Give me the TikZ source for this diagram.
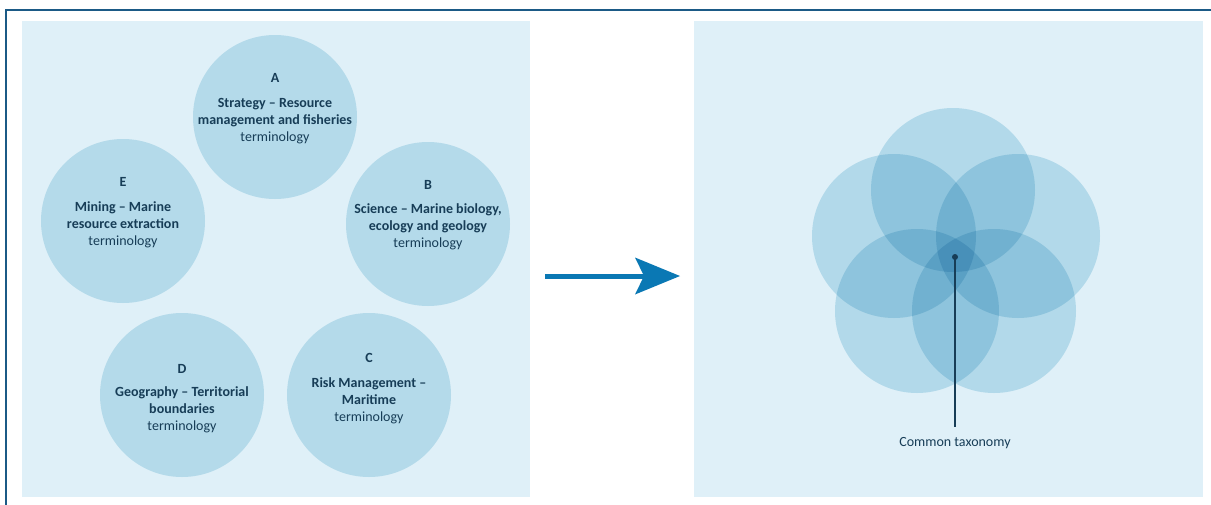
\documentclass[tikz,border=0pt]{standalone}
\usepackage{fontspec}
\setmainfont{Carlito}
\usetikzlibrary{arrows.meta}
\definecolor{panelbg}{HTML}{DFF0F8}
\definecolor{circfill}{HTML}{B4DAEA}
\definecolor{multfill}{RGB}{204,231,241}
\definecolor{navy}{HTML}{173D57}
\definecolor{framecol}{HTML}{1B5A86}
\definecolor{arrowcol}{HTML}{0A78B4}
\begin{document}
\begin{tikzpicture}[x=1pt,y=-1pt,
  panel/.style={fill=panelbg, draw=none, inner sep=0, outer sep=0, minimum height=476pt},
  termcircle/.style={circle, fill=circfill, minimum size=164pt, inner sep=0},
  overlapcircle/.style={circle, fill=multfill, minimum size=164pt, inner sep=0},
  letter/.style={font=\fontsize{14}{16.8}\selectfont\bfseries, text=navy, inner sep=0},
  body/.style={font=\fontsize{14}{16.8}\selectfont, text=navy, align=center, inner sep=0},
  flowarrow/.style={arrowcol, line width=5pt, -{Stealth[length=45pt, width=37pt, inset=9pt, line width=0pt]}},
  pointer/.style={navy, line width=1.3pt},
]
\useasboundingbox (0,0) rectangle (1211,504);
\fill[white] (0,0) rectangle (1211,504);
\draw[framecol, line width=1.8pt] (1215,10) -- (6,10) -- (6,510);

% panels
\node[panel, minimum width=508pt] (pL) at (276,259) {};
\node[panel, minimum width=509pt] (pR) at (948.5,259) {};

% left circles
\node[termcircle] (cA) at (275,117) {};
\node[termcircle] (cB) at (428,224) {};
\node[termcircle] (cC) at (369,395) {};
\node[termcircle] (cD) at (182,395) {};
\node[termcircle] (cE) at (123,221) {};

\node[letter] (lA) at (275,77.5) {A};
\node[body] (tA) at (275,121) {\textbf{Strategy – Resource}\\\textbf{management and fisheries}\\terminology};
\node[letter] (lB) at (428,184.5) {B};
\node[body] (tB) at (428,227) {\textbf{Science – Marine biology,}\\\textbf{ecology and geology}\\terminology};
\node[letter] (lC) at (369,357.5) {C};
\node[body] (tC) at (369,401) {\textbf{Risk Management –}\\\textbf{Maritime}\\terminology};
\node[letter] (lD) at (182,368.5) {D};
\node[body] (tD) at (182,410) {\textbf{Geography – Territorial}\\\textbf{boundaries}\\terminology};
\node[letter] (lE) at (123,181.5) {E};
\node[body] (tE) at (123,225) {\textbf{Mining – Marine}\\\textbf{resource extraction}\\terminology};

% arrow
\coordinate (arrS) at (545,276);
\coordinate (arrE) at (680,276);
\draw[flowarrow] (arrS) -- (arrE);

% right overlapping circles
\begin{scope}[blend mode=multiply]
\node[overlapcircle] (r1) at (953,190) {};
\node[overlapcircle] (r2) at (894,236) {};
\node[overlapcircle] (r3) at (1018,236) {};
\node[overlapcircle] (r4) at (917,311) {};
\node[overlapcircle] (r5) at (994,311) {};
\end{scope}

\node[circle, fill=navy, inner sep=0, minimum size=6pt] (dot) at (955,257) {};
\node[font=\fontsize{14}{16.8}\selectfont, text=navy, inner xsep=0, inner ysep=10pt] (tax) at (955,443) {Common taxonomy};
\draw[pointer] (dot.center) -- (tax.north);
\end{tikzpicture}
\end{document}
